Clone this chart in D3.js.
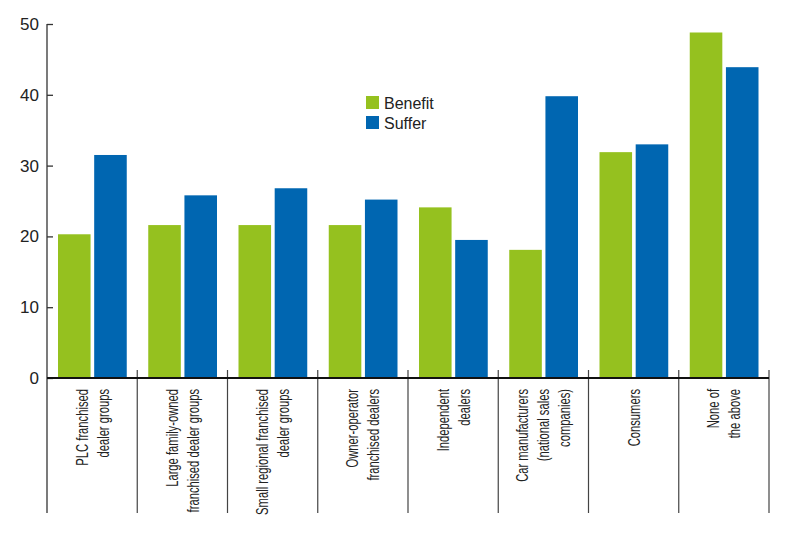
<!DOCTYPE html>
<html><head><meta charset="utf-8">
<script src="https://cdn.jsdelivr.net/npm/d3@7/dist/d3.min.js"></script>
<style>
body{margin:0;background:#fff;}
svg{display:block;}
</style></head>
<body>
<svg id="c" width="800" height="536"></svg>
<script>
const categories = [
  ["PLC franchised","dealer groups"],
  ["Large family-owned","franchised dealer groups"],
  ["Small regional franchised","dealer groups"],
  ["Owner-operator","franchised dealers"],
  ["Independent","dealers"],
  ["Car manufacturers","(national sales","companies)"],
  ["Consumers"],
  ["None of","the above"]
];
const seriesNames = ["Benefit","Suffer"];
const benefit = [20.3, 21.6, 21.6, 21.6, 24.1, 18.1, 31.9, 48.8];
const suffer  = [31.5, 25.8, 26.8, 25.2, 19.5, 39.8, 33.0, 43.9];
const yTicks = [0,10,20,30,40,50];
const colors = ["#95c11f","#0066b1"];

(function(){
const svg = d3.select("#c");
const L = 47, R = 769, T = 24, B = 378, BX = 513;
const catIdx = categories.map((d,i)=>i);
const x0 = d3.scaleBand().domain(catIdx).range([L,R]).paddingInner(0).paddingOuter(0);
const bw = x0.bandwidth();
const x1 = d3.scaleBand().domain([0,1]).range([11, bw-10.5]).paddingInner(0.1).paddingOuter(0);
const y = d3.scaleLinear().domain([0,50]).range([B, T]);
const series = [benefit, suffer];

const g = svg.append("g");
catIdx.forEach(i=>{
  series.forEach((s,k)=>{
    g.append("rect")
      .attr("x", x0(i)+x1(k))
      .attr("y", y(s[i]))
      .attr("width", x1.bandwidth())
      .attr("height", y(0)-y(s[i]))
      .attr("fill", colors[k]);
  });
});

const ya = svg.append("g").attr("transform",`translate(${L},0)`)
  .call(d3.axisLeft(y).tickValues(yTicks).tickSize(-6).tickPadding(8).tickFormat(d3.format("d")));
ya.select(".domain").remove();
ya.selectAll(".tick line").attr("stroke","#333").attr("stroke-width",1.3);
ya.selectAll(".tick text").attr("font-family","'Liberation Sans', Arial, sans-serif").attr("font-size",17).attr("fill","#222");
svg.append("line").attr("x1",L).attr("x2",L).attr("y1",y(50)).attr("y2",BX)
  .attr("stroke","#333").attr("stroke-width",1.3);

const bounds = catIdx.map(i=>x0(i)).concat([R]);
bounds.forEach((bx,j)=>{
  if(j===0) return;
  svg.append("line").attr("x1",bx).attr("x2",bx).attr("y1",B-8).attr("y2",BX)
    .attr("stroke","#444").attr("stroke-width",1.2);
});
svg.append("line").attr("x1",L).attr("x2",R).attr("y1",B).attr("y2",B)
  .attr("stroke","#111").attr("stroke-width",2);

const lh = 21;
catIdx.forEach(i=>{
  const cx = x0(i)+bw/2;
  const lines = categories[i];
  const n = lines.length;
  const t = svg.append("g").attr("transform",`translate(${cx},389) rotate(-90) scale(0.66,1)`);
  lines.forEach((ln,j)=>{
    t.append("text").attr("x",0).attr("y",(j-(n-1)/2)*lh).attr("dy","0.35em")
      .attr("text-anchor","end")
      .attr("font-family","'Liberation Sans', Arial, sans-serif")
      .attr("font-size",17).attr("fill","#222").text(ln);
  });
});

seriesNames.forEach((nm,k)=>{
  const ly = 96 + k*20;
  svg.append("rect").attr("x",366).attr("y",ly).attr("width",13).attr("height",13).attr("fill",colors[k]);
  svg.append("text").attr("x",384).attr("y",ly+13).attr("font-family","'Liberation Sans', Arial, sans-serif")
    .attr("font-size",16).attr("fill","#222").text(nm);
});
})();
</script>
</body></html>
